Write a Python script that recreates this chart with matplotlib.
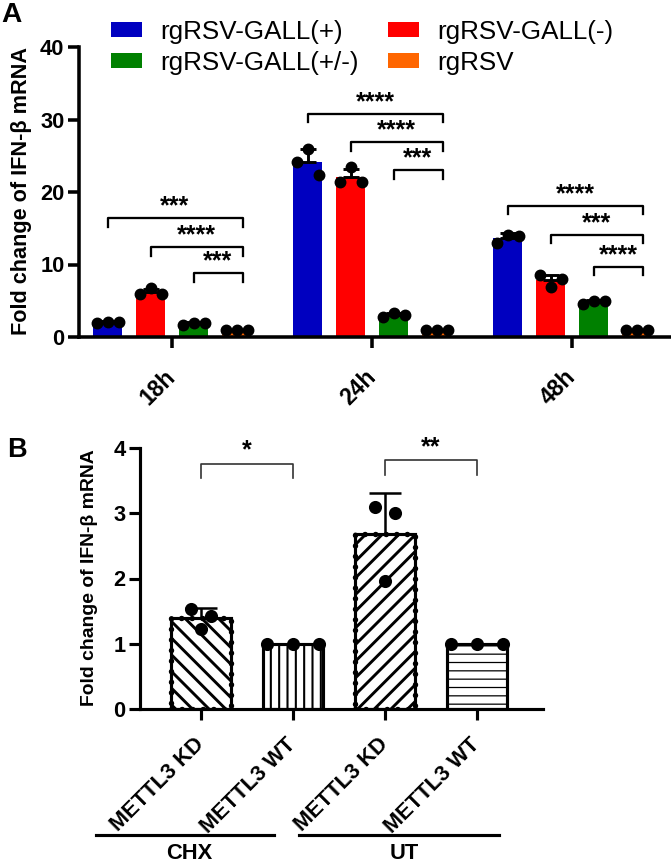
import numpy as np
import matplotlib
matplotlib.use("Agg")
import matplotlib.pyplot as plt
from matplotlib.transforms import blended_transform_factory

plt.rcParams['font.family'] = ['Liberation Sans', 'DejaVu Sans']

# ---- panel A data ----
timepoints = ["18h", "24h", "48h"]
viruses = ["rgRSV-GALL(+)", "rgRSV-GALL(-)", "rgRSV-GALL(+/-)", "rgRSV"]
virus_colors = ["#0000C0", "#FF0000", "#008000", "#FF6600"]
# replicates, [timepoint][virus][replicate]
reps_a = np.array([
    [[1.9, 2.1, 2.1], [5.9, 6.7, 6.0], [1.7, 2.0, 2.0], [1.0, 1.0, 1.0]],
    [[24.1, 25.9, 22.3], [21.4, 23.4, 21.4], [2.8, 3.3, 3.0], [1.0, 1.0, 1.0]],
    [[13.0, 14.1, 14.0], [8.5, 6.9, 8.0], [4.6, 5.0, 5.0], [1.0, 1.0, 1.0]],
])
# brackets vs rgRSV: (timepoint, virus, height, stars)
sig_a = [
    (0, 0, 16.4, "***"), (0, 1, 12.4, "****"), (0, 2, 8.8, "***"),
    (1, 0, 30.8, "****"), (1, 1, 26.9, "****"), (1, 2, 23.0, "***"),
    (2, 0, 18.1, "****"), (2, 1, 14.1, "***"), (2, 2, 9.7, "****"),
]

# ---- panel B data ----
conditions = ["METTL3 KD", "METTL3 WT", "METTL3 KD", "METTL3 WT"]
treatments = ["CHX", "UT"]
reps_b = [[1.53, 1.23, 1.42], [1.0, 1.0, 1.0], [3.09, 1.96, 3.01], [1.0, 1.0, 1.0]]
sig_b = [(0, 1, 3.76, "*"), (2, 3, 3.81, "**")]
hatches_b = ["\\\\\\", "|||", "///", "---"]
dot_spread_b = [0.11, 0.28, 0.11, 0.28]
treat_span = [(-1.14, 0.79), (1.07, 3.24)]  # underline extents (category units)

DPI = 150
fig = plt.figure(figsize=(671 / DPI, 866 / DPI), dpi=DPI)

def style_axes(ax, lw, size):
    for s in ["top", "right"]:
        ax.spines[s].set_visible(False)
    for s in ["left", "bottom"]:
        ax.spines[s].set_linewidth(lw)
    ax.tick_params(width=lw, length=5.5, labelsize=size, pad=1.5)
    for lab in ax.get_xticklabels() + ax.get_yticklabels():
        lab.set_fontweight("bold")

# ================= panel A =================
ax = fig.add_axes([79 / 671, 1 - 337 / 866, (670 - 79) / 671, (337 - 47) / 866])
pitch, bw = 0.215, 0.145
jit = np.array([-1, 0, 1]) * 0.055
handles = []
for g in range(len(timepoints)):
    for v in range(len(viruses)):
        x = g + (v - 1.5) * pitch
        vals = reps_a[g, v]
        m, sd = vals.mean(), vals.std(ddof=1)
        b = ax.bar(x, m, bw, color=virus_colors[v], zorder=2)
        if g == 0:
            handles.append(b)
        if sd > 0:
            ax.errorbar(x, m, yerr=[[0], [sd]], color="black", lw=1.4,
                        capsize=3.8, capthick=1.4, zorder=3)
        ax.scatter(x + jit, vals, s=22, color="black", zorder=4, clip_on=False)

for g, v, h, stars in sig_a:
    x0 = g + (v - 1.5) * pitch
    x1 = g + 1.5 * pitch + 0.03
    ax.plot([x0, x0, x1, x1], [h - 1.2, h, h, h - 1.2], color="black", lw=1.1, zorder=3)
    ax.text((x0 + x1) / 2, h + 1.6, stars, ha="center", va="center",
            fontsize=12, fontweight="bold")

ax.set_xlim(-0.465, 2.49)
ax.set_ylim(0, 40)
ax.set_yticks([0, 10, 20, 30, 40])
ax.set_xticks(range(len(timepoints)))
ax.set_xticklabels(timepoints, rotation=45, ha="right", va="center", rotation_mode="anchor")
style_axes(ax, 1.7, 10.5)
ax.tick_params(axis="x", pad=12, labelsize=11)

fig.text(22 / 671, 1 - 191 / 866, "Fold change of IFN-β mRNA", rotation=90,
         ha="center", va="center", fontsize=10.4, fontweight="bold")
fig.text(0.002, 1 - 2 / 866, "A", ha="left", va="top", fontsize=13.5, fontweight="bold")

order = [0, 2, 1, 3]
fig.legend([handles[i] for i in order], [viruses[i] for i in order], ncol=2,
           loc="upper left", bbox_to_anchor=(111 / 671, 1 - 20 / 866), frameon=False,
           fontsize=12.5, handlelength=1.2, handleheight=0.5, handletextpad=0.7,
           columnspacing=1.1, labelspacing=0.25, borderpad=0, borderaxespad=0)

# ================= panel B =================
axb = fig.add_axes([140 / 671, 1 - 709 / 866, (543 - 140) / 671, (709 - 448) / 866])
bwb = 0.66
for i in range(len(conditions)):
    vals = np.array(reps_b[i])
    m, sd = vals.mean(), vals.std(ddof=1)
    plt.rcParams["hatch.linewidth"] = 1.4 if "KD" in conditions[i] else (1.0 if i == 1 else 0.6)
    axb.bar(i, m, bwb, facecolor="white", edgecolor="black", hatch=hatches_b[i],
            linewidth=1.5, zorder=2)
    if "KD" in conditions[i]:
        axb.bar(i, m, bwb, fill=False, edgecolor="black", linewidth=2.6,
                linestyle=(0, (0.05, 1.9)), capstyle="round", zorder=2)
    if sd > 0:
        axb.errorbar(i, m, yerr=[[0], [sd]], color="black", lw=1.2,
                     capsize=7.7, capthick=1.2, zorder=3)
    offs = np.array([-1, 0, 1]) * dot_spread_b[i]
    axb.scatter(i + offs, vals, s=28, color="black", zorder=4, clip_on=False)

for a, b, h, stars in sig_b:
    axb.plot([a, a, b, b], [h - 0.22, h, h, h - 0.22], color="#333333", lw=0.8, zorder=3)
    axb.text((a + b) / 2, h + 0.2, stars, ha="center", va="center",
             fontsize=12, fontweight="bold")

axb.set_xlim(-0.663, 3.717)
axb.set_ylim(0, 4)
axb.set_yticks([0, 1, 2, 3, 4])
axb.set_xticks(range(len(conditions)))
axb.set_xticklabels(conditions, rotation=45, ha="right", va="center", rotation_mode="anchor")
style_axes(axb, 1.5, 10.5)
axb.tick_params(axis="x", pad=10, labelsize=10.5)

trans = blended_transform_factory(axb.transData, axb.transAxes)
for (x0, x1), t in zip(treat_span, treatments):
    axb.plot([x0, x1], [-0.483, -0.483], color="black", lw=1.5, transform=trans, clip_on=False)
    axb.text((x0 + x1) / 2 + 0.05, -0.555, t, transform=trans, ha="center", va="center",
             fontsize=10.5, fontweight="bold")

fig.text(90 / 671, 1 - 578 / 866, "Fold change of IFN-β mRNA", rotation=90,
         ha="center", va="center", fontsize=9.3, fontweight="bold")
fig.text(7 / 671, 1 - 437 / 866, "B", ha="left", va="top", fontsize=13, fontweight="bold")

fig.savefig("out.png", dpi=DPI)
